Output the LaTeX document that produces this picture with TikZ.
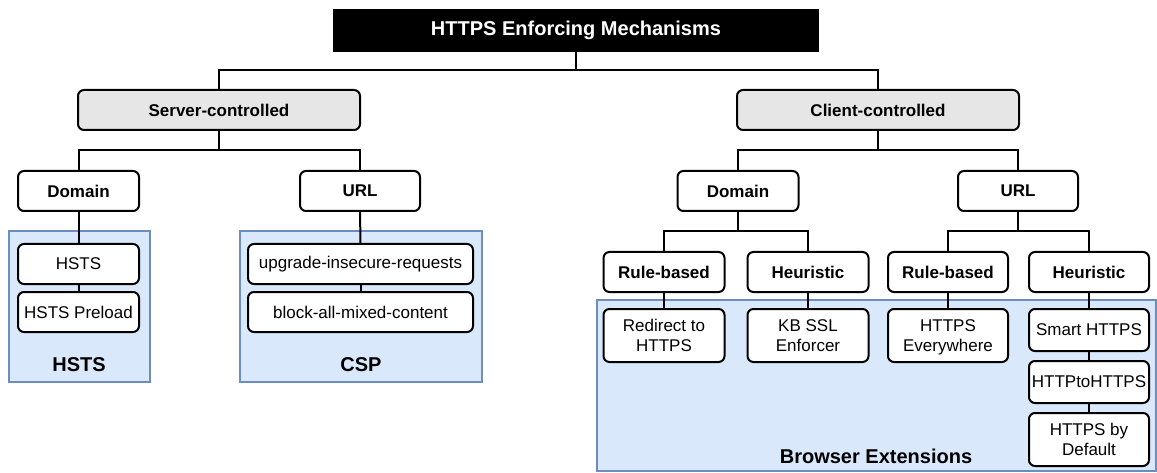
\documentclass[tikz,border=0pt]{standalone}
\usepackage{fontspec}
\setmainfont{Liberation Sans}
\usetikzlibrary{positioning}
\definecolor{groupfill}{HTML}{DAE8FC}
\definecolor{groupline}{HTML}{6C8EBF}
\definecolor{catfill}{HTML}{E6E6E6}

\begin{document}
\begin{tikzpicture}[x=1pt,y=-1pt]
    \tikzstyle{every node}=[rectangle,inner sep=2,font=\fontsize{17}{20}\selectfont]
    \tikzstyle{box}=[draw,line width=2,rounded corners=6,fill=white,align=center,minimum width=121,minimum height=40]
    \tikzstyle{head}=[box,font=\fontsize{17}{20}\selectfont\bfseries]
    \tikzstyle{cat}=[head,fill=catfill,minimum width=282]
    \tikzstyle{group}=[draw=groupline,fill=groupfill,line width=1.5]
    \tikzstyle{grouplabel}=[font=\fontsize{20}{22}\selectfont\bfseries]
    \tikzstyle{link}=[line width=2]

    \useasboundingbox (0,0) rectangle (1157,473);

    % groups
    \draw[group] (9,231) rectangle (150,382);
    \draw[group] (240,231) rectangle (482,382);
    \draw[group] (597,300) rectangle (1156,471);
    \node[grouplabel] (hstslabel) at (79,365) {HSTS};
    \node[grouplabel] (csplabel) at (361,365) {CSP};
    \node[grouplabel] (extlabel) at (876,456) {Browser Extensions};

    % top
    \node[fill=black,text=white,minimum width=486,minimum height=43,font=\fontsize{20}{22}\selectfont\bfseries] (title) at (576,30.5) {HTTPS Enforcing Mechanisms};
    \node[cat] (server) at (219,110) {Server-controlled};
    \node[cat] (client) at (878,110) {Client-controlled};

    % server side
    \node[head] (sdomain) at (78.5,191) {Domain};
    \node[head,minimum width=120] (surl) at (360,191) {URL};
    \node[box] (hsts) at (78.5,264) {HSTS};
    \node[box] (preload) at (78.5,312) {HSTS Preload};
    \node[box,minimum width=225] (upgrade) at (360.5,264) {upgrade-insecure-requests};
    \node[box,minimum width=225] (block) at (360.5,312) {block-all-mixed-content};

    % client side
    \node[head] (cdomain) at (738,191) {Domain};
    \node[head,minimum width=120] (curl) at (1018,191) {URL};
    \node[head] (drule) at (664,272) {Rule-based};
    \node[head] (dheur) at (808,272) {Heuristic};
    \node[head,minimum width=120] (urule) at (948,272) {Rule-based};
    \node[head,minimum width=120] (uheur) at (1089,272) {Heuristic};
    \node[box,minimum height=53] (redirect) at (664,335.5) {Redirect to\\HTTPS};
    \node[box,minimum height=53] (kbssl) at (808,335.5) {KB SSL\\Enforcer};
    \node[box,minimum width=120,minimum height=53] (everywhere) at (948,335.5) {HTTPS\\\smash{Everywhere}};
    \node[box,minimum width=120,minimum height=42] (smart) at (1089,330) {Smart HTTPS};
    \node[box,minimum width=120,minimum height=42,inner sep=0] (httpto) at (1089,382) {HTTPtoHTTPS};
    \node[box,minimum width=120,minimum height=53] (bydefault) at (1089,439.5) {HTTPS by\\Default};

    % connectors
    \coordinate (trunk) at (576,70);
    \coordinate (srvfork) at (219,150);
    \coordinate (clifork) at (878,150);
    \coordinate (domfork) at (738,231);
    \coordinate (urlfork) at (1018,231);
    \draw[link] (title) -- (trunk) -| (server);
    \draw[link] (trunk) -| (client);
    \draw[link] (server) -- (srvfork) -| (sdomain);
    \draw[link] (srvfork) -| (surl);
    \draw[link] (client) -- (clifork) -| (cdomain);
    \draw[link] (clifork) -| (curl);
    \draw[link] (sdomain) -- (hsts);
    \draw[link] (hsts) -- (preload);
    \draw[link] (surl) -- (upgrade);
    \draw[link] (upgrade) -- (block);
    \draw[link] (cdomain) -- (domfork) -| (drule);
    \draw[link] (domfork) -| (dheur);
    \draw[link] (curl) -- (urlfork) -| (urule);
    \draw[link] (urlfork) -| (uheur);
    \draw[link] (drule) -- (redirect);
    \draw[link] (dheur) -- (kbssl);
    \draw[link] (urule) -- (everywhere);
    \draw[link] (uheur) -- (smart);
    \draw[link] (smart) -- (httpto);
    \draw[link] (httpto) -- (bydefault);
\end{tikzpicture}
\end{document}
